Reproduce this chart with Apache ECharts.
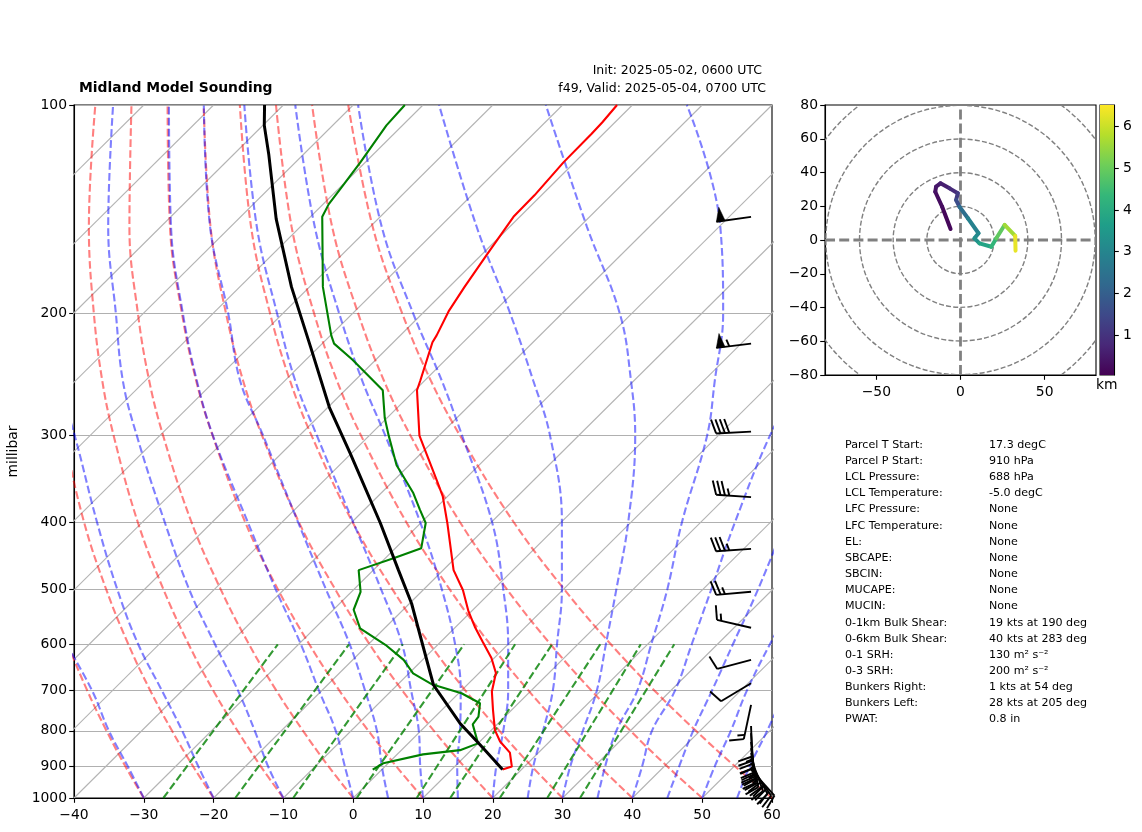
<!DOCTYPE html>
<html>
<head>
<meta charset="utf-8">
<title>Midland Model Sounding</title>
<script src="https://cdn.jsdelivr.net/npm/echarts@6/dist/echarts.min.js"></script>
<style>
html, body { margin: 0; padding: 0; background: #fff; }
#chart { width: 1142px; height: 832px; }
</style>
</head>
<body>
<div id="chart"></div>
<script>
// sounding profiles, surface upward
var tempP = [910, 901, 860, 829, 798, 746, 702, 660, 628, 595, 566, 538, 501, 469, 401, 367, 349, 300, 258, 250, 220, 215, 198, 183, 165, 145, 135, 121, 110, 106, 100];
var tempC = [17.3, 18.2, 15.9, 12.9, 10.5, 7.3, 4.5, 2.4, -0.4, -4, -7.3, -10.4, -14.3, -18.5, -26.2, -30.7, -33.7, -42.8, -49.7, -50.6, -54.4, -54.8, -56.6, -57.8, -59.2, -60.9, -61, -61.6, -61.7, -61.8, -62.2];
var dewP = [910, 891, 865, 853, 834, 783, 763, 730, 706, 685, 661, 632, 601, 569, 535, 504, 469, 450, 436, 401, 384, 363, 331, 300, 283, 258, 233, 221, 215, 183, 145, 139, 130, 121, 107, 100];
var dewC = [-1.3, -0.7, 3.7, 8.4, 10, 6.5, 6.2, 4.5, 0.4, -5.2, -9.4, -12.7, -17.5, -23.5, -27.1, -28.7, -32.1, -28.7, -26.3, -29.3, -32, -35.4, -41.8, -47.2, -50.3, -54.6, -63.4, -68.3, -69.9, -78.1, -88.3, -89.2, -89.9, -90.7, -92.3, -92.6];
var parcelP = [910, 838, 780, 687, 605, 524, 469, 401, 318, 273, 223, 183, 146, 118, 107, 100];
var parcelC = [17.3, 10.5, 4.5, -4.8, -11.8, -19.7, -26.4, -35.8, -50.2, -59.8, -71.3, -82.6, -94.6, -104.9, -109.8, -112.7];

// wind barbs
var barbP = [145, 221, 296, 368, 437, 504, 568, 632, 683, 734, 787, 806, 830, 847, 861, 876, 890, 902, 910];
var barbSpeed = [50, 55, 40, 35, 35, 25, 15, 10, 10, 15, 20, 25, 30, 30, 35, 35, 30, 20, 10];
var barbDir = [262, 263, 267, 274, 266, 265, 283, 255, 239, 192, 178, 176, 174, 172, 168, 160, 152, 145, 138];

// background lines of the skew-T
var pressureTicks = [100, 200, 300, 400, 500, 600, 700, 800, 900, 1000];
var isotherms = [-130, -120, -110, -100, -90, -80, -70, -60, -50, -40, -30, -20, -10, 0, 10, 20, 30, 40, 50];
var curveLevels = [1000, 900, 800, 700, 600, 500, 400, 300, 250, 200, 150, 100];
var dryStart = [-30, -20, -10, 0, 10, 20, 30, 40, 50, 60];
var dryRatio = [1, 0.9703, 0.9382, 0.903, 0.8641, 0.8203, 0.7695, 0.7089, 0.6726, 0.6312, 0.581, 0.5176];
// moist adiabats as read on the bottom axis, one row per line
var moistLines = [
    [-30, -32.3, -35, -37.4, -41.1],
    [-20, -22.2, -24.5, -27.4, -30.8, -33.8, -36.7, -39.9, -42.3],
    [-10, -12.2, -14.1, -16.5, -19.8, -23.5, -27, -31, -33, -34, -35.1, -34.4],
    [0, -1.2, -2.5, -4.9, -7.5, -11.1, -15.1, -20.1, -22.4, -24.4, -26.1, -26.4],
    [5, 4.1, 3.4, 1.7, -0.5, -3.9, -7.9, -12.9, -16.2, -17.9, -20.5, -21.4],
    [10, 9.6, 9.4, 8.3, 7, 4, 0, -5.2, -8.3, -10.9, -13.8, -15.6],
    [15, 14.9, 15.3, 15.4, 14.6, 12.7, 9.6, 4.6, 1.3, -2, -5.5, -8.3],
    [20, 20.5, 21.5, 22.2, 22.2, 21.5, 19.9, 15.6, 12.7, 8.6, 4.1, 0.7],
    [25, 25.8, 27.2, 28.6, 29.2, 29.9, 29.9, 28.2, 25.8, 22.5, 17.7, 12.3],
    [30, 31.1, 32.9, 34.9, 36.2, 37.7, 39.4, 40.4, 39.8, 38.2, 33.5, 27.6],
    [35, 36.1, 37.7, 40.7, 42.7, 45, 47.1, 50.7, 51.8, 53, 52.6, 47.8],
    [40, 41.4, 42.8, 46.1, 48.5, 51.3, 54.7, 59.7, 64],
    [45, 46.7, 48.7, 51.4, 54.4, 58, 61.9],
    [50, 51.8, 54.1, 56.4, 59.7, 64],
    [55, 56.8, 59.3, 61.9]
];
// mixing ratio lines, bottom axis reading at 1000 and 600 hPa
var mixAt1000 = [-27.2, -16.9, -8.6, 0.5, 9.1, 13.9, 21, 27.8, 32.5];
var mixAt600 = [-10.8, -0.6, 7.1, 15.9, 23.2, 28.5, 35.4, 41.2, 46];

// hodograph
var hodoU = [-5.9, -10.9, -15, -14.5, -11.9, -6.5, -1.6, -2.6, -0.6, 4.4, 10.7, 8.3, 11.3, 18.3, 21.3, 26.2, 32.5, 32.7];
var hodoV = [6.5, 19.7, 28.6, 31.6, 33.6, 30.6, 27.7, 23.7, 19.7, 12.9, 4, 1, -2, -4, 1, 8.9, 2.4, -6.3];
var hodoKm = [0.04, 0.15, 0.25, 0.35, 0.45, 0.6, 0.85, 1.2, 1.6, 2.4, 2.9, 3.1, 3.3, 3.8, 4.3, 4.9, 5.6, 6.3];
var rangeRings = [20, 40, 60, 80, 100, 120];
var hodoTicksX = [-50, 0, 50];
var kmTicks = [1, 2, 3, 4, 5, 6];
var viridis = ['#440154', '#482878', '#3e4989', '#31688e', '#26828e', '#1f9e89', '#35b779', '#6ece58', '#b5de2b', '#fde725'];

// parameter table
var paramNames = ['Parcel T Start:', 'Parcel P Start:', 'LCL Pressure:', 'LCL Temperature:', 'LFC Pressure:', 'LFC Temperature:', 'EL:', 'SBCAPE:', 'SBCIN:', 'MUCAPE:', 'MUCIN:', '0-1km Bulk Shear:', '0-6km Bulk Shear:', '0-1 SRH:', '0-3 SRH:', 'Bunkers Right:', 'Bunkers Left:', 'PWAT:'];
var paramValues = ['17.3 degC', '910 hPa', '688 hPa', '-5.0 degC', 'None', 'None', 'None', 'None', 'None', 'None', 'None', '19 kts at 190 deg', '40 kts at 283 deg', '130 m\u00b2 s\u207b\u00b2', '200 m\u00b2 s\u207b\u00b2', '1 kts at 54 deg', '28 kts at 205 deg', '0.8 in'];

var FONT = '"DejaVu Sans", sans-serif';
var KM_MIN = 0.04, KM_MAX = 6.52;
var SKEW = 100; // bottom axis degrees per pressure decade
var BARB_X = 57; // barbs stand in a column at this bottom axis position
var HODO_EDGE = 80.5;

function skewX(t, p) {
    return t + SKEW * Math.log10(1000 / p);
}
function minusSign(v) {
    return String(v).replace('-', '\u2212');
}

function lineSeries(data, color, width, dash, smooth) {
    return {
        type: 'line',
        xAxisIndex: 0,
        yAxisIndex: 0,
        data: data,
        symbol: 'none',
        silent: true,
        smooth: smooth ? 0.4 : false,
        lineStyle: { color: color, width: width, type: dash ? [7.7, 3.3] : 'solid', cap: 'butt' }
    };
}

var series = [];

isotherms.forEach(function (t) {
    series.push(lineSeries([[skewX(t, 1000), 1000], [skewX(t, 100), 100]], '#b4b4b4', 1.1, false, false));
});
dryStart.forEach(function (t0) {
    var pts = curveLevels.map(function (p, i) {
        return [skewX((t0 + 273.15) * dryRatio[i] - 273.15, p), p];
    });
    series.push(lineSeries(pts, 'rgba(255,0,0,0.5)', 2.1, true, true));
});
moistLines.forEach(function (row) {
    var pts = row.map(function (x, i) { return [x, curveLevels[i]]; });
    series.push(lineSeries(pts, 'rgba(0,0,255,0.5)', 2.1, true, true));
});
mixAt1000.forEach(function (x, i) {
    series.push(lineSeries([[x, 1000], [mixAt600[i], 600]], 'rgba(0,128,0,0.8)', 2.1, true, false));
});

function profile(ps, ts) {
    return ps.map(function (p, i) { return [skewX(ts[i], p), p]; });
}
series.push(lineSeries(profile(tempP, tempC), '#ff0000', 2.1, false, false));
series.push(lineSeries(profile(dewP, dewC), '#008000', 2.1, false, false));
series.push(lineSeries(profile(parcelP, parcelC), '#000000', 3, false, false));

// wind barbs, staff runs from the station point out to the tail
function renderBarb(params, api) {
    var base = api.coord([BARB_X, api.value(0)]);
    var speed = api.value(1);
    var dir = api.value(2) * Math.PI / 180;
    var LEN = 35, HEIGHT = 14, WIDTH = 8.75, SPACE = 4.4;
    var hx = Math.sin(dir), hy = -Math.cos(dir);
    var nx = -hy, ny = hx;
    var style = { stroke: '#000', lineWidth: 1.9, fill: 'none' };
    function at(along, side) {
        return [base[0] + hx * along + nx * side, base[1] + hy * along + ny * side];
    }
    var children = [{ type: 'polyline', shape: { points: [at(0, 0), at(LEN, 0)] }, style: style }];
    var pos = LEN;
    var rest = Math.round(speed / 5) * 5;
    while (rest >= 50) {
        children.push({ type: 'polygon', shape: { points: [at(pos, 0), at(pos - WIDTH / 2, HEIGHT), at(pos - WIDTH, 0)] }, style: { fill: '#000', stroke: '#000', lineWidth: 0.5 } });
        pos -= WIDTH + SPACE;
        rest -= 50;
    }
    while (rest >= 10) {
        children.push({ type: 'polyline', shape: { points: [at(pos, 0), at(pos + WIDTH / 2, HEIGHT)] }, style: style });
        pos -= SPACE;
        rest -= 10;
    }
    if (rest >= 5) {
        if (pos === LEN) pos -= SPACE;
        children.push({ type: 'polyline', shape: { points: [at(pos, 0), at(pos + WIDTH / 4, HEIGHT / 2)] }, style: style });
    }
    return { type: 'group', children: children };
}
series.push({
    type: 'custom',
    xAxisIndex: 0,
    yAxisIndex: 0,
    silent: true,
    clip: false,
    z: 5,
    data: barbP.map(function (p, i) { return [p, barbSpeed[i], barbDir[i]]; }),
    encode: { x: -1, y: 0 },
    renderItem: renderBarb
});

// hodograph rings and cross
series.push({
    type: 'custom',
    xAxisIndex: 1,
    yAxisIndex: 1,
    silent: true,
    clip: true,
    data: rangeRings,
    renderItem: function (params, api) {
        var c = api.coord([0, 0]);
        var r = api.size([api.value(0), 0])[0];
        return {
            type: 'circle',
            shape: { cx: c[0], cy: c[1], r: r },
            style: { fill: 'none', stroke: '#808080', lineWidth: 1.4, lineDash: [5, 2.2] }
        };
    }
});
[[[-HODO_EDGE, 0], [HODO_EDGE, 0]], [[0, -80], [0, 80]]].forEach(function (seg) {
    series.push({
        type: 'line',
        xAxisIndex: 1,
        yAxisIndex: 1,
        data: seg,
        symbol: 'none',
        silent: true,
        lineStyle: { color: '#808080', width: 2.8, type: [10, 4.2] }
    });
});

function viridisAt(km) {
    return echarts.color.lerp((km - KM_MIN) / (KM_MAX - KM_MIN), viridis);
}
series.push({
    type: 'custom',
    xAxisIndex: 1,
    yAxisIndex: 1,
    silent: true,
    clip: true,
    z: 4,
    data: hodoU.map(function (u, i) { return [u, hodoV[i], hodoKm[i]]; }),
    renderItem: function (params, api) {
        var i = params.dataIndex;
        if (i === 0) return { type: 'group', children: [] };
        return {
            type: 'line',
            shape: {
                x1: api.coord([hodoU[i - 1], hodoV[i - 1]])[0],
                y1: api.coord([hodoU[i - 1], hodoV[i - 1]])[1],
                x2: api.coord([hodoU[i], hodoV[i]])[0],
                y2: api.coord([hodoU[i], hodoV[i]])[1]
            },
            style: { stroke: viridisAt(api.value(2)), lineWidth: 4, lineCap: 'round' }
        };
    }
});

// colorbar
series.push({
    type: 'bar',
    xAxisIndex: 2,
    yAxisIndex: 2,
    silent: true,
    barWidth: '100%',
    data: [KM_MAX],
    itemStyle: {
        color: new echarts.graphic.LinearGradient(0, 1, 0, 0, viridis.map(function (c, i) {
            return { offset: i / (viridis.length - 1), color: c };
        }))
    }
});

var tickLabel = { color: '#000', fontFamily: FONT, fontSize: 13.9 };
var blackLine = { show: true, onZero: false, lineStyle: { color: '#000', width: 1.1 } };
var tickLine = { show: true, length: 4.8, lineStyle: { color: '#000', width: 1.1 } };

var graphicText = [
    { type: 'text', left: 79, top: 81, style: { text: 'Midland Model Sounding', font: 'bold 13.9px ' + FONT, fill: '#000' } },
    { type: 'text', right: 380, top: 64, style: { text: 'Init: 2025-05-02, 0600 UTC', font: '12.5px ' + FONT, fill: '#000' } },
    { type: 'text', right: 376, top: 82, style: { text: 'f49, Valid: 2025-05-04, 0700 UTC', font: '12.5px ' + FONT, fill: '#000' } },
    { type: 'text', left: 1096, top: 378, style: { text: 'km', font: '13.9px ' + FONT, fill: '#000' } }
];
paramNames.forEach(function (name, i) {
    var y = 439.5 + i * 16.15;
    graphicText.push({ type: 'text', left: 845, top: y, style: { text: name, font: '11.1px ' + FONT, fill: '#000' } });
    graphicText.push({ type: 'text', left: 989, top: y, style: { text: paramValues[i], font: '11.1px ' + FONT, fill: '#000' } });
});

var gridBox = { show: true, borderColor: '#000', borderWidth: 1.1, backgroundColor: 'transparent', outerBoundsMode: 'none' };

var option = {
    animation: false,
    backgroundColor: '#fff',
    graphic: graphicText,
    grid: [
        Object.assign({ left: 74, top: 105, width: 698, height: 693 }, gridBox),
        Object.assign({ left: 825, top: 105, width: 271, height: 270 }, gridBox),
        Object.assign({ left: 1100, top: 105, width: 14, height: 270 }, gridBox)
    ],
    xAxis: [
        {
            gridIndex: 0,
            type: 'value',
            min: -40,
            max: 60,
            interval: 10,
            axisLine: blackLine,
            axisTick: tickLine,
            splitLine: { show: false },
            axisLabel: Object.assign({ margin: 10, formatter: minusSign }, tickLabel)
        },
        {
            gridIndex: 1,
            type: 'value',
            min: -HODO_EDGE,
            max: HODO_EDGE,
            axisLine: blackLine,
            axisTick: Object.assign({ customValues: hodoTicksX }, tickLine),
            splitLine: { show: false },
            axisLabel: Object.assign({ margin: 10, customValues: hodoTicksX, formatter: minusSign }, tickLabel)
        },
        {
            gridIndex: 2,
            type: 'category',
            data: ['km'],
            show: false
        }
    ],
    yAxis: [
        {
            gridIndex: 0,
            type: 'log',
            logBase: 10,
            min: 100,
            max: 1000,
            inverse: true,
            name: 'millibar',
            nameLocation: 'middle',
            nameGap: 45,
            nameTextStyle: { color: '#000', fontFamily: FONT, fontSize: 13.9 },
            axisLine: blackLine,
            axisTick: Object.assign({ customValues: pressureTicks }, tickLine),
            splitLine: { show: true, lineStyle: { color: '#b0b0b0', width: 1.1 } },
            minorTick: { show: false },
            axisLabel: Object.assign({ margin: 7, customValues: pressureTicks, padding: [4, 0, 0, 0], formatter: function (v) { return String(Math.round(v)); } }, tickLabel)
        },
        {
            gridIndex: 1,
            type: 'value',
            min: -80,
            max: 80,
            interval: 20,
            axisLine: blackLine,
            axisTick: tickLine,
            splitLine: { show: false },
            axisLabel: Object.assign({ margin: 7, padding: [4, 0, 0, 0], formatter: minusSign }, tickLabel)
        },
        {
            gridIndex: 2,
            type: 'value',
            position: 'right',
            min: KM_MIN,
            max: KM_MAX,
            axisLine: blackLine,
            axisTick: Object.assign({ customValues: kmTicks }, tickLine),
            splitLine: { show: false },
            axisLabel: Object.assign({ margin: 9, customValues: kmTicks, padding: [4, 0, 0, 0] }, tickLabel)
        }
    ],
    series: series
};

var chart = echarts.init(document.getElementById('chart'));
chart.setOption(option);
</script>
</body>
</html>
